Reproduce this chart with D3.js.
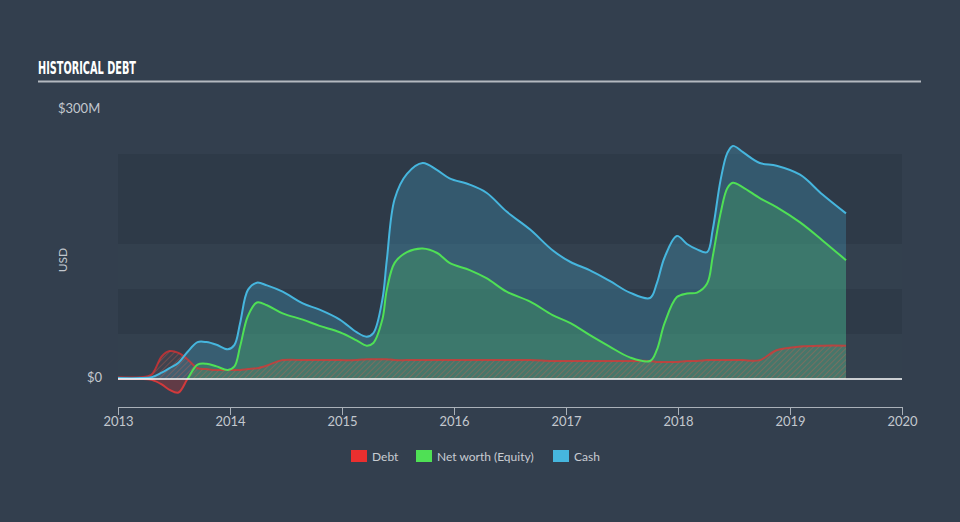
<!DOCTYPE html>
<html>
<head>
<meta charset="utf-8">
<script src="https://cdn.jsdelivr.net/npm/d3@7"></script>
<style>
  body { margin: 0; background: #333f4e; }
  svg { display: block; }
  .tick text { fill: #c3c8ce; font-family: Lato, "Open Sans", sans-serif; font-size: 13px; }
  .tick line, .domain { stroke: #aab1b9; }
</style>
</head>
<body>
<div class="chart"></div>
<script>
var svgWidth = 960;
var svgHeight = 522;

// readings (decimal year, $M)
var years = [2013.00, 2013.20, 2013.30, 2013.39, 2013.46, 2013.54, 2013.62, 2013.71, 2013.79, 2013.88,
  2013.98, 2014.04, 2014.09, 2014.16, 2014.24, 2014.33, 2014.47, 2014.65, 2014.80, 2014.98,
  2015.13, 2015.22, 2015.28, 2015.36, 2015.40, 2015.47, 2015.58, 2015.72, 2015.85, 2015.96,
  2016.14, 2016.29, 2016.47, 2016.68, 2016.88, 2017.04, 2017.21, 2017.39, 2017.57, 2017.75,
  2017.81, 2017.88, 2017.99, 2018.08, 2018.17, 2018.26, 2018.31, 2018.38, 2018.44, 2018.49,
  2018.58, 2018.73, 2018.88, 2019.09, 2019.29, 2019.50];

var debt = [2, 2, 5, 25, 31, 29, 22, 12, 11, 10,
  10, 10, 10, 11, 12, 15, 21, 21, 21, 21,
  21, 22, 22, 22, 22, 21, 21, 21, 21, 21,
  21, 21, 21, 21, 20, 20, 20, 20, 20, 20,
  19, 19, 19, 20, 20, 21, 21, 21, 21, 21,
  21, 21, 32, 36, 37, 37];

var equity = [0, 0, -1, -6, -12, -15, 0, 16, 17, 14,
  10, 14, 36, 70, 85, 82, 73, 66, 59, 52,
  43, 37, 40, 66, 99, 129, 141, 145, 140, 129,
  121, 112, 97, 86, 71, 62, 49, 36, 24, 20,
  32, 62, 91, 95, 96, 106, 136, 184, 212, 218,
  213, 201, 191, 174, 154, 132];

var cash = [1, 1, 2, 7, 12, 18, 30, 41, 41, 38,
  33, 38, 62, 99, 107, 104, 97, 84, 77, 66,
  52, 47, 51, 88, 132, 200, 228, 240, 232, 223,
  216, 207, 186, 166, 143, 130, 121, 109, 96, 90,
  106, 135, 159, 150, 144, 141, 166, 221, 251, 259,
  252, 240, 237, 227, 205, 184];

var yearTicks = [2013, 2014, 2015, 2016, 2017, 2018, 2019, 2020];
var bandStops = [0, 50, 100, 150, 200, 250];
var legendItems = [
  { label: "Debt", color: "#ea2f2f" },
  { label: "Net worth (Equity)", color: "#4fe055" },
  { label: "Cash", color: "#46b6de" }
];

var rows = years.map(function (y, i) {
  return { year: y, debt: debt[i], equity: equity[i], cash: cash[i] };
});

var svg = d3.select(".chart")
  .append("svg")
  .attr("width", svgWidth)
  .attr("height", svgHeight);

var x = d3.scaleLinear().domain([2013, 2020]).range([118, 902]);
var y = d3.scaleLinear().domain([0, 300]).range([379, 109]);

// title + rule
svg.append("text")
  .attr("x", 38)
  .attr("y", 74)
  .attr("fill", "#ffffff")
  .attr("font-family", "'Liberation Sans Narrow', 'DejaVu Sans Condensed', sans-serif")
  .attr("font-weight", "bold")
  .attr("font-size", 18)
  .attr("textLength", 98)
  .attr("lengthAdjust", "spacingAndGlyphs")
  .text("HISTORICAL DEBT");

svg.append("line")
  .attr("x1", 38).attr("x2", 921)
  .attr("y1", 81.5).attr("y2", 81.5)
  .attr("stroke", "#b4b9c0")
  .attr("stroke-width", 2);

// background bands
var defs = svg.append("defs");
svg.append("g").selectAll("rect")
  .data(d3.pairs(bandStops))
  .enter()
  .append("rect")
  .attr("x", x(2013))
  .attr("width", x(2020) - x(2013))
  .attr("y", d => y(d[1]))
  .attr("height", d => y(d[0]) - y(d[1]))
  .attr("fill", (d, i) => (i % 2 === 1 || i === 4) ? "#2e3a48" : "#33404e");

// hatch pattern for debt
var pat = defs.append("pattern")
  .attr("id", "hatch")
  .attr("patternUnits", "userSpaceOnUse")
  .attr("width", 4).attr("height", 4)
  .attr("patternTransform", "rotate(45)");
pat.append("rect").attr("width", 4).attr("height", 4).attr("fill", "rgba(200,90,80,0.08)");
pat.append("line")
  .attr("x1", 0).attr("y1", 0).attr("x2", 0).attr("y2", 4)
  .attr("stroke", "#d2604f")
  .attr("stroke-opacity", 0.55)
  .attr("stroke-width", 1.2);

// clip above / below zero
defs.append("clipPath").attr("id", "above")
  .append("rect").attr("x", 0).attr("y", 0).attr("width", svgWidth).attr("height", y(0));
defs.append("clipPath").attr("id", "below")
  .append("rect").attr("x", 0).attr("y", y(0)).attr("width", svgWidth).attr("height", 100);

var curve = d3.curveCatmullRom.alpha(0.5);

function areaOf(key) {
  return d3.area().curve(curve).x(d => x(d.year)).y0(y(0)).y1(d => y(d[key]));
}
function lineOf(key) {
  return d3.line().curve(curve).x(d => x(d.year)).y(d => y(d[key]));
}

var chartGroup = svg.append("g");

// areas
chartGroup.append("path").datum(rows)
  .attr("d", areaOf("cash"))
  .attr("fill", "rgba(70,182,222,0.25)");

chartGroup.append("path").datum(rows)
  .attr("d", areaOf("equity"))
  .attr("clip-path", "url(#above)")
  .attr("fill", "rgba(79,224,85,0.2)");

chartGroup.append("path").datum(rows)
  .attr("d", areaOf("equity"))
  .attr("clip-path", "url(#below)")
  .attr("fill", "rgba(234,47,47,0.25)");

chartGroup.append("path").datum(rows)
  .attr("d", areaOf("debt"))
  .attr("fill", "url(#hatch)");

// lines
chartGroup.append("path").datum(rows)
  .attr("d", lineOf("debt"))
  .attr("fill", "none")
  .attr("stroke", "#ea2f2f")
  .attr("stroke-opacity", 0.7)
  .attr("stroke-width", 2);

chartGroup.append("path").datum(rows)
  .attr("d", lineOf("equity"))
  .attr("clip-path", "url(#above)")
  .attr("fill", "none")
  .attr("stroke", "#4fe055")
  .attr("stroke-width", 2);

chartGroup.append("path").datum(rows)
  .attr("d", lineOf("equity"))
  .attr("clip-path", "url(#below)")
  .attr("fill", "none")
  .attr("stroke", "#ea3a3a")
  .attr("stroke-opacity", 0.85)
  .attr("stroke-width", 2);

chartGroup.append("path").datum(rows)
  .attr("d", lineOf("cash"))
  .attr("fill", "none")
  .attr("stroke", "#46b6de")
  .attr("stroke-width", 2);

// zero line
svg.append("line")
  .attr("x1", x(2013)).attr("x2", x(2020))
  .attr("y1", y(0)).attr("y2", y(0))
  .attr("stroke", "#ffffff")
  .attr("stroke-width", 1.5);

// y labels
var labelFont = "Lato, 'Open Sans', sans-serif";
svg.append("text")
  .attr("x", 58).attr("y", y(300) + 4)
  .attr("fill", "#c3c8ce")
  .attr("font-family", labelFont)
  .attr("font-size", 13)
  .text("$300M");

svg.append("text")
  .attr("x", 102).attr("y", y(0) + 3)
  .attr("text-anchor", "end")
  .attr("fill", "#c3c8ce")
  .attr("font-family", labelFont)
  .attr("font-size", 13)
  .text("$0");

svg.append("text")
  .attr("transform", "translate(67, 260) rotate(-90)")
  .attr("text-anchor", "middle")
  .attr("fill", "#c3c8ce")
  .attr("font-family", labelFont)
  .attr("font-size", 12)
  .text("USD");

// x axis
var bottomAxis = d3.axisBottom(x)
  .tickValues(yearTicks)
  .tickFormat(d3.format("d"))
  .tickSize(8)
  .tickSizeOuter(0)
  .tickPadding(2);

svg.append("g")
  .attr("transform", "translate(0, 407)")
  .call(bottomAxis);

// legend
var legend = svg.append("g").attr("transform", "translate(351, 450)");
var legendX = [0, 65, 202];
var items = legend.selectAll("g")
  .data(legendItems)
  .enter()
  .append("g")
  .attr("transform", (d, i) => `translate(${legendX[i]}, 0)`);

items.append("rect")
  .attr("width", 16).attr("height", 12)
  .attr("fill", d => d.color);

items.append("text")
  .attr("x", 21).attr("y", 11)
  .attr("fill", "#c8ccd2")
  .attr("font-family", labelFont)
  .attr("font-size", 12)
  .text(d => d.label);
</script>
</body>
</html>
